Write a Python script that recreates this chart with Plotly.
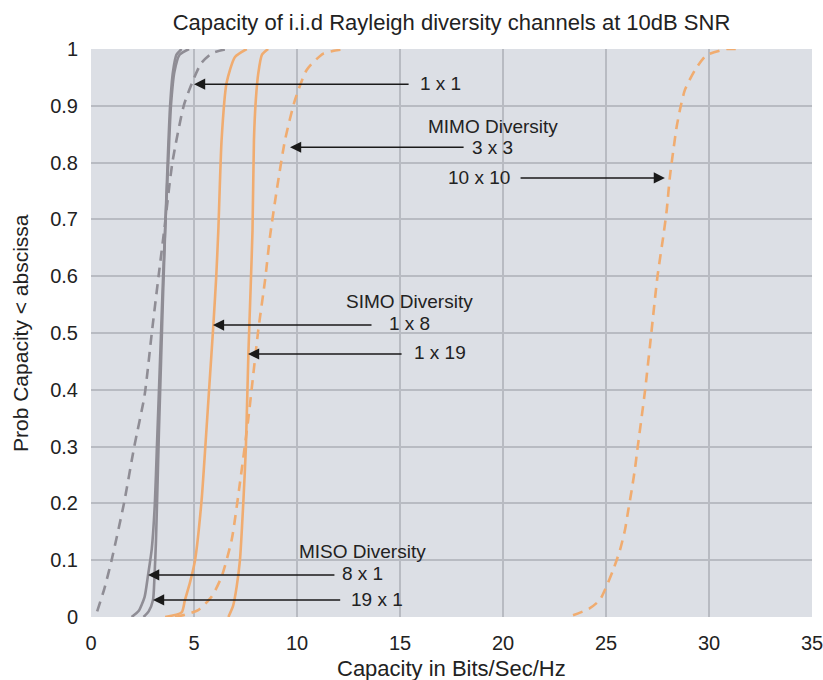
import plotly.graph_objects as go

# ---- data ----
cap_8x1 = [1.97, 2.3, 2.6, 2.77, 2.95, 3.1, 3.2, 3.3, 3.4, 3.5, 3.62, 3.75, 3.88, 4.05, 4.3, 4.76]
prob_8x1 = [0, 0.01, 0.035, 0.074, 0.12, 0.2, 0.3, 0.4, 0.5, 0.6, 0.7, 0.8, 0.9, 0.96, 0.99, 1.0]

cap_19x1 = [2.55, 2.8, 3.01, 3.08, 3.15, 3.22, 3.3, 3.4, 3.5, 3.6, 3.72, 3.84, 3.98, 4.15, 4.4]
prob_19x1 = [0, 0.01, 0.03, 0.07, 0.13, 0.22, 0.33, 0.45, 0.57, 0.68, 0.8, 0.9, 0.96, 0.99, 1.0]

cap_1x1 = [0.3, 0.65, 1.0, 1.6, 2.1, 2.6, 2.95, 3.28, 3.55, 3.95, 4.5, 4.9, 5.35, 5.9, 6.6]
prob_1x1 = [0.01, 0.05, 0.1, 0.2, 0.3, 0.39, 0.5, 0.6, 0.68, 0.8, 0.9, 0.94, 0.975, 0.993, 1.0]

cap_1x8 = [3.6, 4.4, 4.56, 4.8, 5.05, 5.37, 5.55, 5.75, 5.94, 6.08, 6.18, 6.34, 6.58, 6.99, 7.56]
prob_1x8 = [0, 0.008, 0.03, 0.06, 0.1, 0.206, 0.3, 0.41, 0.514, 0.6, 0.68, 0.84, 0.94, 0.986, 1.0]

cap_1x19 = [6.67, 6.9, 7.07, 7.23, 7.4, 7.52, 7.64, 7.75, 7.84, 7.91, 8.0, 8.12, 8.3, 8.6]
prob_1x19 = [0, 0.02, 0.053, 0.1, 0.206, 0.3, 0.463, 0.58, 0.68, 0.84, 0.91, 0.957, 0.99, 1.0]

cap_3x3 = [4.08, 4.56, 5.2, 5.86, 6.34, 6.83, 7.23, 7.64, 8.12, 8.45, 8.69, 9.01, 9.42, 9.9, 10.47, 11.28, 12.4]
prob_3x3 = [0, 0.004, 0.012, 0.036, 0.071, 0.136, 0.236, 0.35, 0.505, 0.593, 0.67, 0.75, 0.84, 0.91, 0.963, 0.992, 1.0]

cap_10x10 = [23.4, 24.2, 24.7, 24.95, 25.35, 25.68, 25.92, 26.08, 26.25, 26.41, 26.52, 26.9, 27.2, 27.5,
             27.8, 27.95, 28.1, 28.27, 28.43, 28.59, 28.83, 29.32, 29.88, 30.85, 31.3]
prob_10x10 = [0.003, 0.015, 0.03, 0.048, 0.083, 0.118, 0.153, 0.188, 0.224, 0.262, 0.294, 0.4, 0.5, 0.6,
              0.675, 0.717, 0.775, 0.822, 0.863, 0.893, 0.928, 0.963, 0.989, 1.0, 1.0]

x_ticks = [0, 5, 10, 15, 20, 25, 30, 35]
y_ticks = [0, 0.1, 0.2, 0.3, 0.4, 0.5, 0.6, 0.7, 0.8, 0.9, 1.0]
y_tick_text = ["0", "0.1", "0.2", "0.3", "0.4", "0.5", "0.6", "0.7", "0.8", "0.9", "1"]

# labels: (text, x, y)
label_text = ["1 x 1", "MIMO Diversity", "3 x 3", "10 x 10", "SIMO Diversity", "1 x 8", "1 x 19",
              "MISO Diversity", "8 x 1", "19 x 1"]
label_x = [16.99, 19.51, 19.47, 18.83, 15.44, 15.44, 16.94, 13.16, 13.16, 13.88]
label_y = [0.940, 0.863, 0.826, 0.773, 0.555, 0.516, 0.465, 0.116, 0.077, 0.030]

# arrows: tail (x0,y) -> head (x1,y)
arrow_tail_x = [15.49, 18.16, 20.78, 13.69, 15.15, 11.89, 12.17]
arrow_head_x = [5.0, 9.66, 27.86, 5.92, 7.62, 2.77, 3.01]
arrow_y = [0.938, 0.827, 0.773, 0.514, 0.463, 0.074, 0.030]

GRAY = "rgb(143,141,149)"
ORANGE = "rgb(240,172,112)"
DASH = "10px,7px"
LW = 2.6

series = [
    (cap_1x1, prob_1x1, GRAY, DASH, "1 x 1"),
    (cap_8x1, prob_8x1, GRAY, "solid", "8 x 1"),
    (cap_19x1, prob_19x1, GRAY, "solid", "19 x 1"),
    (cap_1x8, prob_1x8, ORANGE, "solid", "1 x 8"),
    (cap_1x19, prob_1x19, ORANGE, "solid", "1 x 19"),
    (cap_3x3, prob_3x3, ORANGE, DASH, "3 x 3"),
    (cap_10x10, prob_10x10, ORANGE, DASH, "10 x 10"),
]

fig = go.Figure()
for xs, ys, col, dash, name in series:
    fig.add_trace(go.Scatter(x=xs, y=ys, mode="lines", name=name,
                             line=dict(color=col, width=LW, dash=dash, shape="spline", smoothing=0.6)))

FONT = "Liberation Sans, Arial, sans-serif"
TXT = "#222222"
annotations = []
for t, x, y in zip(label_text, label_x, label_y):
    annotations.append(dict(x=x, y=y, xref="x", yref="y", text=t, showarrow=False,
                            xanchor="center", yanchor="middle",
                            font=dict(family=FONT, size=19, color=TXT)))
for x0, x1, y in zip(arrow_tail_x, arrow_head_x, arrow_y):
    annotations.append(dict(x=x1, y=y, ax=x0, ay=y, xref="x", yref="y", axref="x", ayref="y",
                            text="", showarrow=True, arrowhead=2, arrowsize=1.6, arrowwidth=1.4,
                            arrowcolor="#1a1a1a", standoff=0, startstandoff=0))
# axis titles
annotations.append(dict(x=0.5, y=0, xref="paper", yref="paper", yshift=-51,
                        text="Capacity in Bits/Sec/Hz", showarrow=False,
                        xanchor="center", yanchor="middle",
                        font=dict(family=FONT, size=22, color=TXT)))
annotations.append(dict(x=0, y=0.5, xref="paper", yref="paper", xshift=-71,
                        text="Prob Capacity < abscissa", showarrow=False, textangle=-90,
                        xanchor="center", yanchor="middle",
                        font=dict(family=FONT, size=21, color=TXT)))

GRID = "rgb(184,187,194)"
fig.update_layout(
    width=823, height=680,
    margin=dict(l=91, r=11, t=49, b=63, autoexpand=False),
    paper_bgcolor="white",
    plot_bgcolor="rgb(220,223,229)",
    showlegend=False,
    title=dict(text="Capacity of i.i.d Rayleigh diversity channels at 10dB SNR",
               x=0.5, xref="paper", y=1 - 22 / 680, yref="container",
               xanchor="center", yanchor="middle",
               font=dict(family=FONT, size=22, color=TXT)),
    annotations=annotations,
    xaxis=dict(range=[0, 35], tickvals=x_ticks, showgrid=True, gridcolor=GRID, gridwidth=1.5,
               zeroline=False, showline=False, ticks="outside", ticklen=8,
               tickcolor="rgba(0,0,0,0)", tickfont=dict(family=FONT, size=20, color=TXT),
               ticklabeloverflow="allow", automargin=False, fixedrange=True),
    yaxis=dict(range=[0, 1], tickvals=y_ticks, ticktext=y_tick_text, showgrid=True,
               gridcolor=GRID, gridwidth=1.5, zeroline=False, showline=False,
               ticks="outside", ticklen=8, tickcolor="rgba(0,0,0,0)",
               tickfont=dict(family=FONT, size=20, color=TXT), automargin=False, fixedrange=True),
)

fig.write_html("out.html")
